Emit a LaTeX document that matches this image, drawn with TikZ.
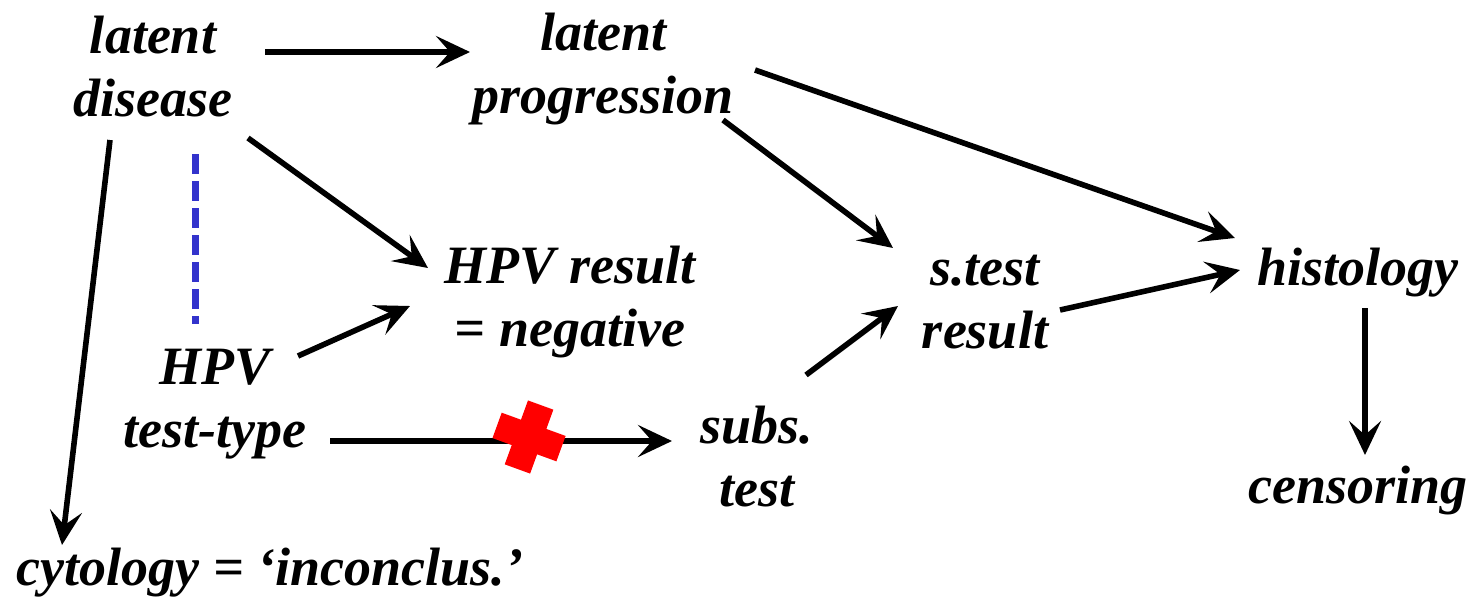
\documentclass[tikz,border=0pt]{standalone}
\usepackage{fontspec}
\setmainfont{Liberation Serif}
\usetikzlibrary{arrows.meta,calc}
\definecolor{dashblue}{RGB}{51,51,204}
\definecolor{crossred}{RGB}{255,0,0}
\begin{document}
\begin{tikzpicture}[x=0.5pt,y=-0.5pt,
  lbl/.style={inner sep=0pt,align=center,font=\fontsize{27}{31.5}\selectfont\bfseries\itshape},
  arr/.style={line width=2.8pt,-{Stealth[length=17pt,width=16pt,inset=7pt]}},
  assoc/.style={line width=3.5pt,dashblue,dash pattern=on 10pt off 3.5pt}]
\useasboundingbox (0,0) rectangle (1471,600);
\node[lbl] (ld) at (153,67) {latent\\disease};
\node[lbl] (lp) at (603,69) {latent\\progression};
\node[lbl] (hr) at (570,302) {HPV result\\= negative};
\node[lbl] (st) at (985,302) {s.test\\result};
\node[lbl] (hi) at (1358,273) {histology};
\node[lbl] (ht) at (215,404) {HPV\\test-type};
\node[lbl] (su) at (757,457) {subs.\\test};
\node[lbl] (ce) at (1358,491) {censoring};
\node[lbl] (cy) at (270,573) {cytology = ‘inconclus.’};
% connectors
\draw[arr] ($(ld)+(112,-15)$) -- ($(lp)+(-133,-17)$);
\draw[arr] ($(lp)+(152,1)$) -- ($(hi)+(-123,-35)$);
\draw[arr] ($(lp)+(120,51)$) -- ($(st)+(-92,-54)$);
\draw[arr] ($(ld)+(95,71)$) -- ($(hr)+(-142,-34)$);
\draw[arr] ($(ld)+(-43,73)$) -- ($(cy)+(-208,-28)$);
\draw[assoc] ($(ld)+(42,87)$) -- ($(ht)+(-20,-80)$);
\draw[arr] ($(ht)+(83,-48)$) -- ($(hr)+(-160,4)$);
\draw[arr] ($(ht)+(115,37)$) -- coordinate[pos=0.582] (blk) ($(su)+(-85,-16)$);
\draw[arr] ($(su)+(49,-82)$) -- ($(st)+(-87,4)$);
\draw[arr] ($(st)+(75,8)$) -- ($(hi)+(-118,-3)$);
\draw[arr] ($(hi)+(7,35)$) -- ($(ce)+(7,-36)$);
% red cross on the blocked connector
\fill[crossred,shift={($(blk)+(0,-4)$)},rotate=-20]
  (-34,-13.5) rectangle (34,13.5) (-13.5,-34) rectangle (13.5,34);
\end{tikzpicture}
\end{document}
